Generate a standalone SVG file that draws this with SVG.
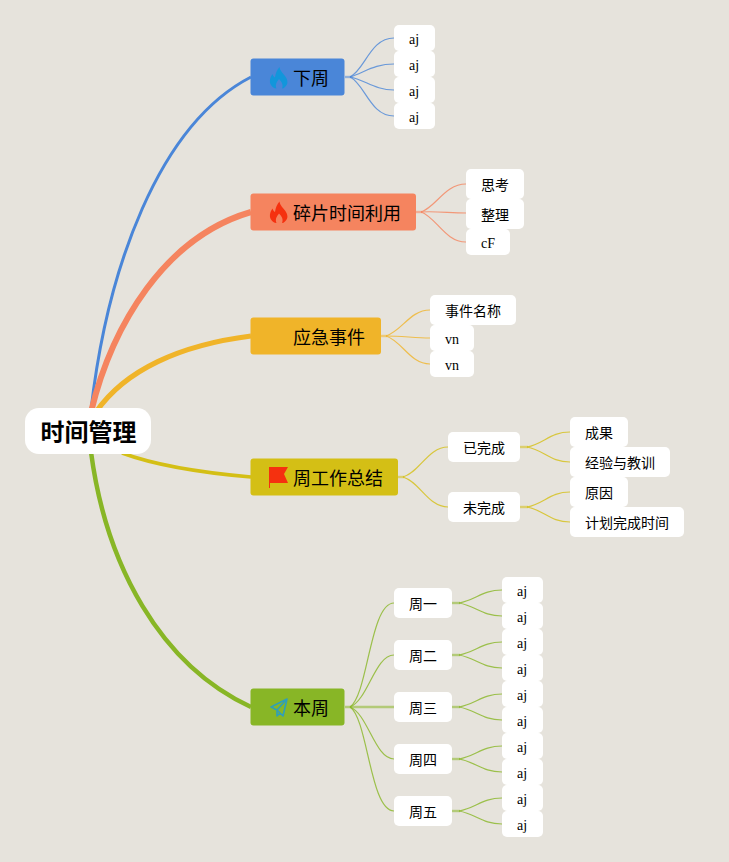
<svg xmlns="http://www.w3.org/2000/svg" width="729" height="862" viewBox="0 0 729 862">
<style>
text{font-family:"Liberation Serif","Noto Sans CJK SC",serif;fill:#000;text-anchor:middle;dominant-baseline:central}
.t{font-size:18px;text-anchor:start}
.s{font-size:14px}
.r{font-size:24px;font-weight:700}
.w{fill:#fff}
path{fill:none}
.blue{stroke:#4a86d8}.org{stroke:#f5845f}.yel{stroke:#f0b429}.oli{stroke:#d4bf15}.grn{stroke:#88b626}
.l1 path{stroke-width:1.2;opacity:.8}
.l1 path.st{stroke-width:2.4;opacity:.55}
</style>
<rect width="729" height="862" fill="#e6e3dc"/>
<g id="connectors">
<path class="blue" stroke-width="3" d="M91 410C107 270 158 125 251 77"/>
<path class="org" stroke-width="6" d="M91 412C112 325 165 237 251 212"/>
<path class="yel" stroke-width="5" d="M96 412C125 370 180 345 251 336"/>
<path class="oli" stroke-width="3.500" d="M122 453C160 467 205 473 251 477"/>
<path class="grn" stroke-width="4.500" d="M91 452C106 565 160 665 251 707"/>

<g class="l1">
<path class="blue st" d="M345 77H351"/>
<path class="blue" d="M350 77C365 70 370 38 394 38"/>
<path class="blue" d="M350 77C365 72 375 64 394 64"/>
<path class="blue" d="M350 77C365 80 375 90 394 90"/>
<path class="blue" d="M350 77C365 84 370 116 394 116"/>
<path class="org st" d="M416 212H422"/>
<path class="org" d="M421 212C436 207 445 184 466 184"/>
<path class="org" d="M421 212C436 211 450 213 466 213"/>
<path class="org" d="M421 212C436 217 445 242 466 242"/>
<path class="yel st" d="M381 336H387"/>
<path class="yel" d="M386 336C402 331 410 310 430 310"/>
<path class="yel" d="M386 336C402 336 415 338 430 338"/>
<path class="yel" d="M386 336C402 341 410 364 430 364"/>
<path class="oli st" d="M398 477H404"/>
<path class="oli" d="M403 477C420 472 428 447 448 447"/>
<path class="oli" d="M403 477C420 482 428 507 448 507"/>
<path class="oli st" d="M520 447H528"/>
<path class="oli" d="M527 447C544 444 550 432 570 432"/>
<path class="oli" d="M527 447C544 450 550 462 570 462"/>
<path class="oli st" d="M520 507H528"/>
<path class="oli" d="M527 507C544 504 550 492 570 492"/>
<path class="oli" d="M527 507C544 510 550 522 570 522"/>
<path class="grn st" d="M345 707H394"/>
<path class="grn" d="M350 707C368 695 370 603 394 603"/>
<path class="grn" d="M350 707C368 700 375 655 394 655"/>
<path class="grn" d="M350 707C368 714 375 759 394 759"/>
<path class="grn" d="M350 707C368 719 370 811 394 811"/>
<path class="grn st" d="M452 603H460"/>
<path class="grn" d="M459 603C476 600 482 590 502 590"/>
<path class="grn" d="M459 603C476 606 482 616 502 616"/>
<path class="grn st" d="M452 655H460"/>
<path class="grn" d="M459 655C476 652 482 642 502 642"/>
<path class="grn" d="M459 655C476 658 482 668 502 668"/>
<path class="grn st" d="M452 707H460"/>
<path class="grn" d="M459 707C476 704 482 694 502 694"/>
<path class="grn" d="M459 707C476 710 482 720 502 720"/>
<path class="grn st" d="M452 759H460"/>
<path class="grn" d="M459 759C476 756 482 746 502 746"/>
<path class="grn" d="M459 759C476 762 482 772 502 772"/>
<path class="grn st" d="M452 811H460"/>
<path class="grn" d="M459 811C476 808 482 798 502 798"/>
<path class="grn" d="M459 811C476 814 482 824 502 824"/>
</g>
</g>

<g id="root"><rect class="w" x="25" y="408" width="126" height="46" rx="14"/><text class="r" x="88.500" y="433">时间管理</text></g>

<g id="t-xiazhou"><rect x="250.500" y="58.500" width="94" height="37" rx="3" fill="#4a86d8"/>
<path style="fill:#1296db;fill-rule:evenodd" d="M279.500 67C280 71 283 73 285 76C288 80 288.500 84 285 87C284 88 283 88.500 282 88.500C283.500 85 282 82 279 79C276.500 82 275 85 276.500 88.500C274 88.500 272.500 87 271 85C268.500 81 271 76 272.500 74C273 76 274 77 275 77.500C275.500 73 277 70 279.500 67Z"/>
<text class="t" x="293" y="79">下周</text></g>

<g id="t-suipian"><rect x="250.500" y="193.500" width="165.500" height="37" rx="3" fill="#f5845f"/>
<path style="fill:#f5310f;fill-rule:evenodd" d="M279.500 201.500C280 205.500 283 207.500 285 210.500C288 214.500 288.500 218.500 285 221.500C284 222.500 283 223 282 223C283.500 219.500 282 216.500 279 213.500C276.500 216.500 275 219.500 276.500 223C274 223 272.500 221.500 271 219.500C268.500 215.500 271 210.500 272.500 208.500C273 210.500 274 211.500 275 212C275.500 207.500 277 204.500 279.500 201.500Z"/>
<text class="t" x="293" y="214">碎片时间利用</text></g>

<g id="t-yingji"><rect x="250.500" y="317.500" width="130.500" height="37" rx="3" fill="#f0b429"/>
<text class="t" x="293" y="338">应急事件</text></g>

<g id="t-zongjie"><rect x="250.500" y="458.500" width="147.500" height="37" rx="3" fill="#d4bf15"/>
<path style="fill:#f5310f" d="M269 467H288L284 474L288 483H270V488H269Z"/>
<text class="t" x="293" y="479">周工作总结</text></g>

<g id="t-benzhou"><rect x="250.500" y="688.500" width="94" height="37" rx="3" fill="#88b626"/>
<path style="stroke:#2f9fb8;stroke-width:1.600;stroke-linejoin:round" d="M287 699L271 707L277 710L283 716ZM287 699L277 710L277 716L280 713"/>
<text class="t" x="293" y="709">本周</text></g>

<g id="n-xz1"><rect class="w" x="394" y="25" width="41" height="26" rx="5"/><text class="s" x="414" y="39">aj</text></g>
<g id="n-xz2"><rect class="w" x="394" y="51" width="41" height="26" rx="5"/><text class="s" x="414" y="65">aj</text></g>
<g id="n-xz3"><rect class="w" x="394" y="77" width="41" height="26" rx="5"/><text class="s" x="414" y="91">aj</text></g>
<g id="n-xz4"><rect class="w" x="394" y="103" width="41" height="26" rx="5"/><text class="s" x="414" y="117">aj</text></g>

<g id="n-sp1"><rect class="w" x="466" y="169" width="58" height="30" rx="5"/><text class="s" x="495" y="185">思考</text></g>
<g id="n-sp2"><rect class="w" x="466" y="199" width="58" height="30" rx="5"/><text class="s" x="495" y="215">整理</text></g>
<g id="n-sp3"><rect class="w" x="466" y="229" width="44" height="26" rx="5"/><text class="s" x="488" y="243">cF</text></g>

<g id="n-yj1"><rect class="w" x="430" y="295" width="86" height="30" rx="5"/><text class="s" x="473" y="311">事件名称</text></g>
<g id="n-yj2"><rect class="w" x="430" y="325" width="44" height="26" rx="5"/><text class="s" x="452" y="339">vn</text></g>
<g id="n-yj3"><rect class="w" x="430" y="351" width="44" height="26" rx="5"/><text class="s" x="452" y="365">vn</text></g>

<g id="n-zj1"><rect class="w" x="448" y="432" width="72" height="30" rx="5"/><text class="s" x="484" y="448">已完成</text></g>
<g id="n-zj2"><rect class="w" x="448" y="492" width="72" height="30" rx="5"/><text class="s" x="484" y="508">未完成</text></g>
<g id="n-zj11"><rect class="w" x="570" y="417" width="58" height="30" rx="5"/><text class="s" x="599" y="433">成果</text></g>
<g id="n-zj12"><rect class="w" x="570" y="447" width="100" height="30" rx="5"/><text class="s" x="620" y="463">经验与教训</text></g>
<g id="n-zj21"><rect class="w" x="570" y="477" width="58" height="30" rx="5"/><text class="s" x="599" y="493">原因</text></g>
<g id="n-zj22"><rect class="w" x="570" y="507" width="114" height="30" rx="5"/><text class="s" x="627" y="523">计划完成时间</text></g>

<g id="n-d1"><rect class="w" x="394" y="588" width="58" height="30" rx="5"/><text class="s" x="423" y="604">周一</text></g>
<g id="n-d2"><rect class="w" x="394" y="640" width="58" height="30" rx="5"/><text class="s" x="423" y="656">周二</text></g>
<g id="n-d3"><rect class="w" x="394" y="692" width="58" height="30" rx="5"/><text class="s" x="423" y="708">周三</text></g>
<g id="n-d4"><rect class="w" x="394" y="744" width="58" height="30" rx="5"/><text class="s" x="423" y="760">周四</text></g>
<g id="n-d5"><rect class="w" x="394" y="796" width="58" height="30" rx="5"/><text class="s" x="423" y="812">周五</text></g>

<g id="n-a1"><rect class="w" x="502" y="577" width="41" height="26" rx="5"/><text class="s" x="522" y="591">aj</text></g>
<g id="n-a2"><rect class="w" x="502" y="603" width="41" height="26" rx="5"/><text class="s" x="522" y="617">aj</text></g>
<g id="n-a3"><rect class="w" x="502" y="629" width="41" height="26" rx="5"/><text class="s" x="522" y="643">aj</text></g>
<g id="n-a4"><rect class="w" x="502" y="655" width="41" height="26" rx="5"/><text class="s" x="522" y="669">aj</text></g>
<g id="n-a5"><rect class="w" x="502" y="681" width="41" height="26" rx="5"/><text class="s" x="522" y="695">aj</text></g>
<g id="n-a6"><rect class="w" x="502" y="707" width="41" height="26" rx="5"/><text class="s" x="522" y="721">aj</text></g>
<g id="n-a7"><rect class="w" x="502" y="733" width="41" height="26" rx="5"/><text class="s" x="522" y="747">aj</text></g>
<g id="n-a8"><rect class="w" x="502" y="759" width="41" height="26" rx="5"/><text class="s" x="522" y="773">aj</text></g>
<g id="n-a9"><rect class="w" x="502" y="785" width="41" height="26" rx="5"/><text class="s" x="522" y="799">aj</text></g>
<g id="n-a10"><rect class="w" x="502" y="811" width="41" height="26" rx="5"/><text class="s" x="522" y="825">aj</text></g>
</svg>
